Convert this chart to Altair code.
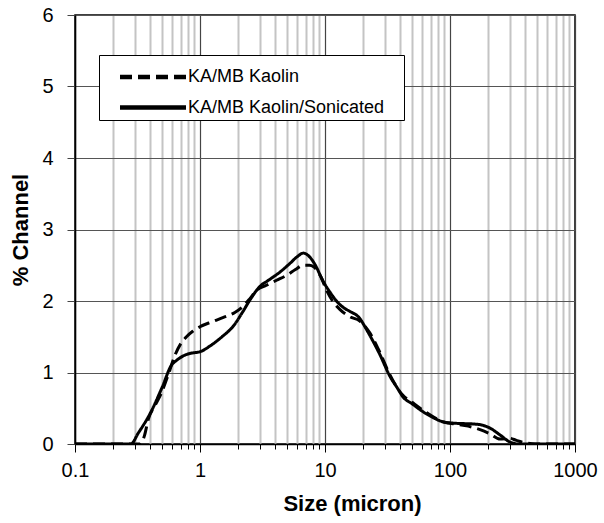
import altair as alt
import pandas as pd

series_names = ["KA/MB Kaolin", "KA/MB Kaolin/Sonicated"]

x_kaolin = [0.1, 0.33, 0.36, 0.385, 0.44, 0.49, 0.56, 0.63, 0.7, 0.78, 0.88, 1.0, 1.25, 1.54,
            1.9, 2.22, 2.5, 2.84, 3.4, 4.1, 4.94, 5.8, 6.7, 7.5, 8.1, 9.2, 10.3, 11.5, 13.2,
            15.8, 19, 22.9, 27.5, 33, 42, 50, 61, 75, 88, 110, 140, 174, 210, 251, 300, 340,
            420, 480, 1000]
y_kaolin = [0, 0, 0.12, 0.34, 0.55, 0.71, 0.98, 1.24, 1.4, 1.5, 1.58, 1.64, 1.71, 1.77,
            1.84, 1.93, 2.03, 2.15, 2.22, 2.29, 2.36, 2.44, 2.5, 2.5, 2.48, 2.35, 2.15, 2.0, 1.88,
            1.78, 1.72, 1.55, 1.28, 0.97, 0.68, 0.58, 0.47, 0.37, 0.31, 0.28, 0.25, 0.2, 0.14,
            0.07, 0.08, 0.05, 0.01, 0, 0]

x_sonic = [0.1, 0.2, 0.28, 0.32, 0.4, 0.5, 0.59, 0.65, 0.75, 0.85, 1.0, 1.2, 1.5, 1.85, 2.2,
           2.5, 3.0, 3.6, 4.4, 5.2, 6.0, 6.7, 7.5, 8.5, 9.5, 11, 12.5, 14, 16, 18.5, 21.5, 24,
           27.5, 33, 38, 42, 50, 61, 75, 88, 110, 154, 185, 210, 250, 300, 350, 1000]
y_sonic = [0, 0, 0, 0.15, 0.43, 0.8, 1.1, 1.17, 1.24, 1.27, 1.29, 1.37, 1.5, 1.65, 1.85,
           2.01, 2.2, 2.3, 2.41, 2.52, 2.62, 2.67, 2.62, 2.48, 2.3, 2.12, 1.99, 1.91, 1.85, 1.78,
           1.6, 1.45, 1.25, 0.95, 0.78, 0.66, 0.56, 0.45, 0.36, 0.31, 0.29, 0.28, 0.26, 0.22,
           0.13, 0.03, 0, 0]

x_major = [0.1, 1, 10, 100, 1000]
x_minor = [round(m * 10 ** e, 4) for e in range(-1, 3) for m in range(2, 10)]
y_ticks = [0, 1, 2, 3, 4, 5, 6]

df = pd.concat([
    pd.DataFrame({"size": x_kaolin, "pct": y_kaolin, "series": series_names[0], "order": range(len(x_kaolin))}),
    pd.DataFrame({"size": x_sonic, "pct": y_sonic, "series": series_names[1], "order": range(len(x_sonic))}),
])

xscale = alt.Scale(type="log", domain=[0.1, 1000], nice=False)
yscale = alt.Scale(domain=[0, 6], nice=False)

y_enc = alt.Y("pct:Q", scale=yscale,
              axis=alt.Axis(title="% Channel", values=y_ticks, grid=True, gridColor="#555555",
                            gridWidth=1, tickSize=8, tickColor="#444444", domainColor="black",
                            domainWidth=1.5, labelColor="black", labelFontSize=20, labelPadding=14,
                            titleFontSize=22, titleFontWeight="bold", titlePadding=9))

minor_layer = alt.Chart(df).mark_line(opacity=0).encode(
    x=alt.X("size:Q", scale=xscale,
            axis=alt.Axis(orient="bottom", title=None, values=x_minor, labels=False, domain=False,
                          grid=True, gridColor="#c4c4c4", gridWidth=2, tickSize=5,
                          tickColor="black")),
    y=y_enc,
    detail="series:N",
)

line_layer = alt.Chart(df).mark_line(color="black", strokeWidth=3, interpolate="monotone", clip=True).encode(
    x=alt.X("size:Q", scale=xscale,
            axis=alt.Axis(orient="bottom", title="Size (micron)", values=x_major,
                          labelExpr="datum.value < 1 ? '0.1' : format(datum.value, 'd')",
                          grid=True, gridColor="#444444", gridWidth=1.2, tickSize=8,
                          tickColor="black", domainColor="black", domainWidth=1.5, labelColor="black",
                          labelFontSize=20, labelPadding=8, titleFontSize=22, titleFontWeight="bold",
                          titleX=277, titleY=66, titleAlign="center", titleBaseline="alphabetic",
                          labelFlush=False, labelOverlap=False)),
    y=y_enc,
    strokeDash=alt.StrokeDash("series:N",
                              scale=alt.Scale(domain=series_names, range=[[12, 6], [1, 0]]),
                              legend=alt.Legend(title="\u00a0", titleOrient="right", titleFontSize=2,
                                                titlePadding=17,
                                                orient="none", legendX=24, legendY=40,
                                                symbolType="M-2,0H2", symbolStrokeColor="black",
                                                symbolStrokeWidth=4.5, symbolSize=1089,
                                                labelFontSize=18, labelColor="black",
                                                strokeColor="black", fillColor="white",
                                                padding=3, rowPadding=2.5, labelOffset=16,
                                                symbolOffset=32, labelLimit=400)),
    order="order:Q",
)

chart = alt.layer(minor_layer, line_layer).resolve_axis(x="independent").properties(
    width=500, height=429,
    padding={"left": 75, "top": 15, "right": 29, "bottom": 79},
    autosize=alt.AutoSizeParams(type="none"),
).configure(
    font="Liberation Sans",
).configure_view(
    stroke="black", strokeWidth=1.5,
)

chart.save("out.html", embed_options={"renderer": "svg", "actions": False})
